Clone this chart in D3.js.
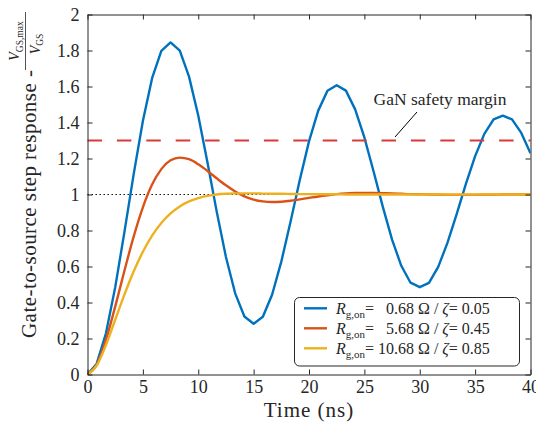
<!DOCTYPE html>
<html>
<head>
<meta charset="utf-8">
<script src="https://cdn.jsdelivr.net/npm/d3@7"></script>
<style>
    body { margin: 0; background: #fff; }
</style>
</head>
<body>
<svg width="536" height="425" font-family="serif"></svg>
<script>
let timeNs = [0, 0.833, 1.667, 2.5, 3.333, 4.167, 5, 5.833, 6.667, 7.5, 8.333, 9.167, 10,
    10.833, 11.667, 12.5, 13.333, 14.167, 15, 15.833, 16.667, 17.5, 18.333, 19.167, 20,
    20.833, 21.667, 22.5, 23.333, 24.167, 25, 25.833, 26.667, 27.5, 28.333, 29.167, 30,
    30.833, 31.667, 32.5, 33.333, 34.167, 35, 35.833, 36.667, 37.5, 38.333, 39.167, 40]

// Rg,on = 0.68 ohm / zeta = 0.05
let response1 = [0, 0.060, 0.229, 0.484, 0.791, 1.112, 1.408, 1.646, 1.798, 1.845, 1.799, 1.655, 1.439,
    1.178, 0.905, 0.653, 0.451, 0.322, 0.282, 0.321, 0.443, 0.627, 0.849, 1.081, 1.295,
    1.466, 1.576, 1.607, 1.577, 1.473, 1.317, 1.128, 0.931, 0.749, 0.604, 0.510, 0.485,
    0.509, 0.598, 0.731, 0.891, 1.059, 1.213, 1.337, 1.417, 1.438, 1.417, 1.342, 1.229]

// Rg,on = 5.68 ohm / zeta = 0.45
let response2 = [0, 0.055, 0.193, 0.377, 0.576, 0.766, 0.929, 1.055, 1.141, 1.190, 1.205, 1.196, 1.168,
    1.131, 1.090, 1.051, 1.017, 0.990, 0.972, 0.962, 0.958, 0.960, 0.965, 0.973, 0.981,
    0.989, 0.996, 1.002, 1.006, 1.008, 1.009, 1.008, 1.007, 1.006, 1.004, 1.002, 1.001,
    1.000, 0.999, 0.998, 0.998, 0.998, 0.998, 0.999, 0.999, 1.000, 1.000, 1.000, 1.000]

// Rg,on = 10.68 ohm / zeta = 0.85
let response3 = [0, 0.050, 0.164, 0.304, 0.444, 0.572, 0.682, 0.772, 0.842, 0.895, 0.934, 0.962, 0.980,
    0.992, 1.000, 1.004, 1.006, 1.006, 1.006, 1.005, 1.004, 1.004, 1.003, 1.002, 1.002,
    1.001, 1.001, 1.001, 1.000, 1.000, 1.000, 1.000, 1.000, 1.000, 1.000, 1.000, 1.000,
    1.000, 1.000, 1.000, 1.000, 1.000, 1.000, 1.000, 1.000, 1.000, 1.000, 1.000, 1.000]

let rgValues = ['0.68', '5.68', '10.68']
let zetaValues = ['0.05', '0.45', '0.85']
let colors = ['#0072bd', '#d95319', '#edb120']
let xTicks = [0, 5, 10, 15, 20, 25, 30, 35, 40]
let yTicks = [0, 0.2, 0.4, 0.6, 0.8, 1, 1.2, 1.4, 1.6, 1.8, 2]
let safetyMargin = 1.3
let unity = 1

let svg = d3.select('svg')
let plot = { left: 87.5, right: 530.5, top: 14.5, bottom: 374.5 }
let axisColor = '#262626'
let serif = 'serif'

let scale = {
    x: d3.scaleLinear().domain([0, 40]).range([plot.left, plot.right]),
    y: d3.scaleLinear().domain([0, 2]).range([plot.bottom, plot.top])
}

svg.append('clipPath')
    .attr('id', 'plot-clip')
    .append('rect')
    .attr('x', plot.left)
    .attr('y', plot.top)
    .attr('width', plot.right - plot.left)
    .attr('height', plot.bottom - plot.top)

// reference line at 1
svg.append('line')
    .attr('x1', scale.x(0)).attr('x2', scale.x(40))
    .attr('y1', scale.y(unity)).attr('y2', scale.y(unity))
    .attr('stroke', '#000')
    .attr('stroke-width', 1.2)
    .attr('stroke-dasharray', '1.4,2.6')

// curves
let curves = svg.append('g').attr('clip-path', 'url(#plot-clip)')
let series = [response1, response2, response3]

series.forEach((values, i) => {
    let line = d3.line()
        .x((d, j) => scale.x(timeNs[j]))
        .y(d => scale.y(d))
        .curve(i == 0 ? d3.curveLinear : d3.curveMonotoneX)

    curves.append('path')
        .datum(values)
        .attr('fill', 'none')
        .attr('stroke', colors[i])
        .attr('stroke-width', 2.4)
        .attr('stroke-linejoin', 'round')
        .attr('d', line)
})

// GaN safety margin
svg.append('line')
    .attr('x1', scale.x(0)).attr('x2', scale.x(40))
    .attr('y1', scale.y(safetyMargin)).attr('y2', scale.y(safetyMargin))
    .attr('stroke', '#d83a3a')
    .attr('stroke-width', 2.2)
    .attr('stroke-dasharray', '14.5,14.9')

svg.append('line')
    .attr('x1', 395).attr('y1', 137)
    .attr('x2', 417).attr('y2', 112)
    .attr('stroke', '#000')
    .attr('stroke-width', 1)

svg.append('text')
    .attr('x', 440)
    .attr('y', 105)
    .attr('text-anchor', 'middle')
    .attr('font-family', serif)
    .attr('font-size', 17.5)
    .attr('fill', axisColor)
    .text('GaN safety margin')

// axes
let axis = {
    bottom: d3.axisBottom(scale.x).tickValues(xTicks).tickSizeInner(-5).tickSizeOuter(0).tickPadding(6),
    left: d3.axisLeft(scale.y).tickValues(yTicks).tickFormat(d => d).tickSizeInner(-5).tickSizeOuter(0).tickPadding(8),
    top: d3.axisTop(scale.x).tickValues(xTicks).tickFormat('').tickSizeInner(-5).tickSizeOuter(0),
    right: d3.axisRight(scale.y).tickValues(yTicks).tickFormat('').tickSizeInner(-5).tickSizeOuter(0)
}

let placeAxis = (a, transform) => {
    svg.append('g')
        .attr('transform', transform)
        .attr('color', axisColor)
        .call(a)
        .attr('font-family', serif)
        .attr('font-size', 18)
        .selectAll('text')
        .attr('fill', axisColor)
}

placeAxis(axis.bottom, `translate(0,${plot.bottom})`)
placeAxis(axis.left, `translate(${plot.left},0)`)
placeAxis(axis.top, `translate(0,${plot.top})`)
placeAxis(axis.right, `translate(${plot.right},0)`)

// X label
svg.append('text')
    .attr('x', (plot.left + plot.right) / 2)
    .attr('y', 417)
    .attr('text-anchor', 'middle')
    .attr('font-family', serif)
    .attr('font-size', 21)
    .attr('letter-spacing', 1)
    .attr('fill', axisColor)
    .text('Time (ns)')

// Y label
let ylab = svg.append('g')
    .attr('transform', 'translate(36,338) rotate(-90)')
    .attr('font-family', serif)
    .attr('fill', axisColor)

ylab.append('text')
    .attr('font-size', 21)
    .attr('letter-spacing', 0.45)
    .text('Gate-to-source step response -')

let numerator = ylab.append('text')
    .attr('x', 297).attr('y', -17)
    .attr('text-anchor', 'middle')
    .attr('font-size', 14)
numerator.append('tspan').attr('font-style', 'italic').text('V')
numerator.append('tspan').attr('dy', 4).attr('font-size', 9.5).text('GS,max')

ylab.append('line')
    .attr('x1', 268).attr('x2', 326)
    .attr('y1', -10.5).attr('y2', -10.5)
    .attr('stroke', axisColor)
    .attr('stroke-width', 0.8)

let denominator = ylab.append('text')
    .attr('x', 294).attr('y', 4)
    .attr('text-anchor', 'middle')
    .attr('font-size', 14)
denominator.append('tspan').attr('font-style', 'italic').text('V')
denominator.append('tspan').attr('dy', 3).attr('font-size', 9.5).text('GS')

// Legend
let legend = svg.append('g').attr('font-family', serif).attr('font-size', 16).attr('fill', axisColor)

legend.append('rect')
    .attr('x', 294.5).attr('y', 297.5)
    .attr('width', 225).attr('height', 68.5)
    .attr('rx', 5)
    .attr('fill', '#fff')
    .attr('stroke', axisColor)
    .attr('stroke-width', 1)

rgValues.forEach((rg, i) => {
    let rowY = 308.3 + i * 20

    legend.append('line')
        .attr('x1', 304).attr('x2', 327)
        .attr('y1', rowY).attr('y2', rowY)
        .attr('stroke', colors[i])
        .attr('stroke-width', 2.4)

    let label = legend.append('text')
        .attr('x', 336).attr('y', rowY + 5.5)
    label.append('tspan').attr('font-style', 'italic').text('R')
    label.append('tspan').attr('dy', 4).attr('font-size', 11).text('g,on')
    label.append('tspan').attr('dy', -4).text('=')

    legend.append('text')
        .attr('x', 414).attr('y', rowY + 5.5)
        .attr('text-anchor', 'end')
        .text(rg)

    let rest = legend.append('text')
        .attr('x', 418).attr('y', rowY + 5.5)
    rest.append('tspan').text('Ω / ')
    rest.append('tspan').attr('font-style', 'italic').text('ζ')
    rest.append('tspan').text('= ' + zetaValues[i])
})
</script>
</body>
</html>
